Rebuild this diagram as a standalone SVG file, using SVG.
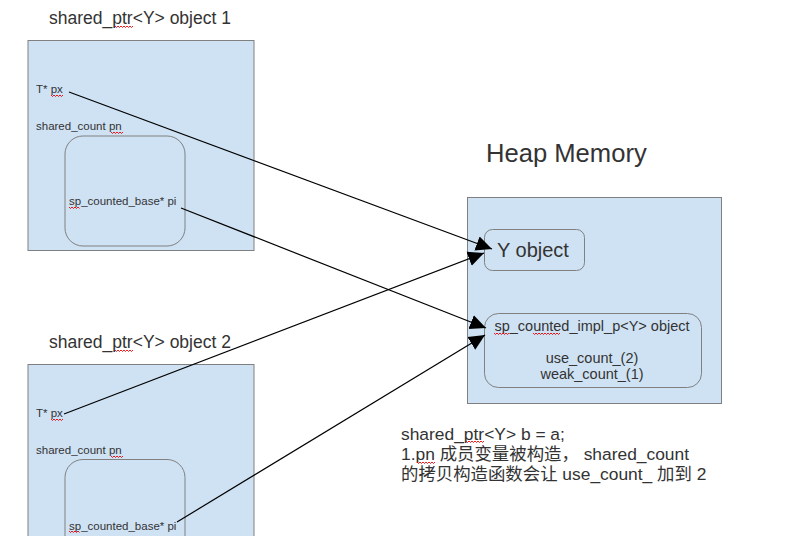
<svg xmlns="http://www.w3.org/2000/svg" width="804" height="536" viewBox="0 0 804 536">
<defs>
<marker id="ah" markerUnits="userSpaceOnUse" markerWidth="18" markerHeight="16" refX="16" refY="8" orient="auto">
<path d="M0,0.5 L16,8 L0,15.5 Z" fill="#000"/>
</marker>
<style>
.box{fill:#cfe2f3;stroke:#808080;stroke-width:1}
.inner{fill:#cfe2f3;stroke:#808080;stroke-width:1}
text{font-family:"Liberation Sans",Arial,"Noto Sans CJK SC",sans-serif;fill:#333}
.t17{font-size:17.5px}
.s{font-size:11.5px}
.m{font-size:14.5px}
.n{font-size:17.4px}
.conn{stroke:#000;stroke-width:1.2;fill:none;marker-end:url(#ah)}
.sq{stroke:#e00;stroke-width:0.9;fill:none}
</style>
</defs>
<rect width="804" height="536" fill="#fff"/>

<g id="sp1">
<text class="t17" x="49" y="24">shared_ptr&lt;Y&gt; object 1</text>
<rect class="box" x="28" y="40.5" width="226" height="210"/>
<text class="s" x="36" y="93">T* px</text>
<text class="s" x="36" y="130">shared_count pn</text>
<rect class="inner" x="65" y="136" width="120" height="110" rx="18"/>
<text class="s" x="69" y="205">sp_counted_base* pi</text>
</g>

<g id="sp2">
<text class="t17" x="49" y="348">shared_ptr&lt;Y&gt; object 2</text>
<rect class="box" x="28" y="364.5" width="226" height="180"/>
<text class="s" x="36" y="417">T* px</text>
<text class="s" x="36" y="454">shared_count pn</text>
<rect class="inner" x="65" y="459.5" width="120" height="110" rx="18"/>
<text class="s" x="69" y="530">sp_counted_base* pi</text>
</g>

<g id="heap">
<text x="486" y="162" style="font-size:25.6px">Heap Memory</text>
<rect class="box" x="467.5" y="197.5" width="254" height="206"/>
</g>

<g id="yobj">
<rect class="inner" x="484.5" y="229.5" width="100" height="41" rx="8"/>
<text x="497" y="257" style="font-size:20px">Y object</text>
</g>

<g id="impl">
<rect class="inner" x="484.5" y="313.5" width="217" height="74" rx="14"/>
<text class="m" x="592" y="331" text-anchor="middle">sp_counted_impl_p&lt;Y&gt; object</text>
<text class="m" x="592" y="363" text-anchor="middle">use_count_(2)</text>
<text class="m" x="592" y="379" text-anchor="middle">weak_count_(1)</text>
</g>

<g id="note">
<text class="n" x="401" y="440">shared_ptr&lt;Y&gt; b = a;</text>
<text class="n" x="401" y="460">1.pn 成员变量被构造， shared_count</text>
<text class="n" x="401" y="480">的拷贝构造函数会让 use_count_ 加到 2</text>
</g>

<g id="squiggles">
<path class="sq" d="M115,26 l1.5,1.5 l1.5,-1.5 l1.5,1.5 l1.5,-1.5 l1.5,1.5 l1.5,-1.5 l1.5,1.5 l1.5,-1.5 l1.5,1.5 l1.5,-1.5 l1.5,1.5 l1.5,-1.5"/>
<path class="sq" d="M51,95 l1.5,1.5 l1.5,-1.5 l1.5,1.5 l1.5,-1.5 l1.5,1.5 l1.5,-1.5 l1.5,1.5 l1.5,-1.5"/>
<path class="sq" d="M111,132 l1.5,1.5 l1.5,-1.5 l1.5,1.5 l1.5,-1.5 l1.5,1.5 l1.5,-1.5 l1.5,1.5 l1.5,-1.5"/>
<path class="sq" d="M69,207 l1.5,1.5 l1.5,-1.5 l1.5,1.5 l1.5,-1.5 l1.5,1.5 l1.5,-1.5 l1.5,1.5"/>
<path class="sq" d="M115,350 l1.5,1.5 l1.5,-1.5 l1.5,1.5 l1.5,-1.5 l1.5,1.5 l1.5,-1.5 l1.5,1.5 l1.5,-1.5 l1.5,1.5 l1.5,-1.5 l1.5,1.5 l1.5,-1.5"/>
<path class="sq" d="M51,419 l1.5,1.5 l1.5,-1.5 l1.5,1.5 l1.5,-1.5 l1.5,1.5 l1.5,-1.5 l1.5,1.5 l1.5,-1.5"/>
<path class="sq" d="M111,456 l1.5,1.5 l1.5,-1.5 l1.5,1.5 l1.5,-1.5 l1.5,1.5 l1.5,-1.5 l1.5,1.5 l1.5,-1.5"/>
<path class="sq" d="M69,531 l1.5,1.5 l1.5,-1.5 l1.5,1.5 l1.5,-1.5 l1.5,1.5 l1.5,-1.5 l1.5,1.5"/>
<path class="sq" d="M494,333 l1.5,1.5 l1.5,-1.5 l1.5,1.5 l1.5,-1.5 l1.5,1.5 l1.5,-1.5 l1.5,1.5 l1.5,-1.5 l1.5,1.5 l1.5,-1.5"/>
<path class="sq" d="M533,333 l1.5,1.5 l1.5,-1.5 l1.5,1.5 l1.5,-1.5 l1.5,1.5 l1.5,-1.5 l1.5,1.5 l1.5,-1.5 l1.5,1.5 l1.5,-1.5 l1.5,1.5 l1.5,-1.5 l1.5,1.5 l1.5,-1.5 l1.5,1.5 l1.5,-1.5 l1.5,1.5 l1.5,-1.5"/>
<path class="sq" d="M466,441 l1.5,1.5 l1.5,-1.5 l1.5,1.5 l1.5,-1.5 l1.5,1.5 l1.5,-1.5 l1.5,1.5 l1.5,-1.5 l1.5,1.5 l1.5,-1.5 l1.5,1.5 l1.5,-1.5"/>
<path class="sq" d="M417,462 l1.5,1.5 l1.5,-1.5 l1.5,1.5 l1.5,-1.5 l1.5,1.5 l1.5,-1.5 l1.5,1.5 l1.5,-1.5 l1.5,1.5 l1.5,-1.5 l1.5,1.5 l1.5,-1.5"/>
</g>

<g id="connectors">
<path class="conn" d="M69,92 L492,249"/>
<path class="conn" d="M181,208 L486,328"/>
<path class="conn" d="M64,414 L484,253"/>
<path class="conn" d="M177,522 L485,335"/>
</g>
</svg>
